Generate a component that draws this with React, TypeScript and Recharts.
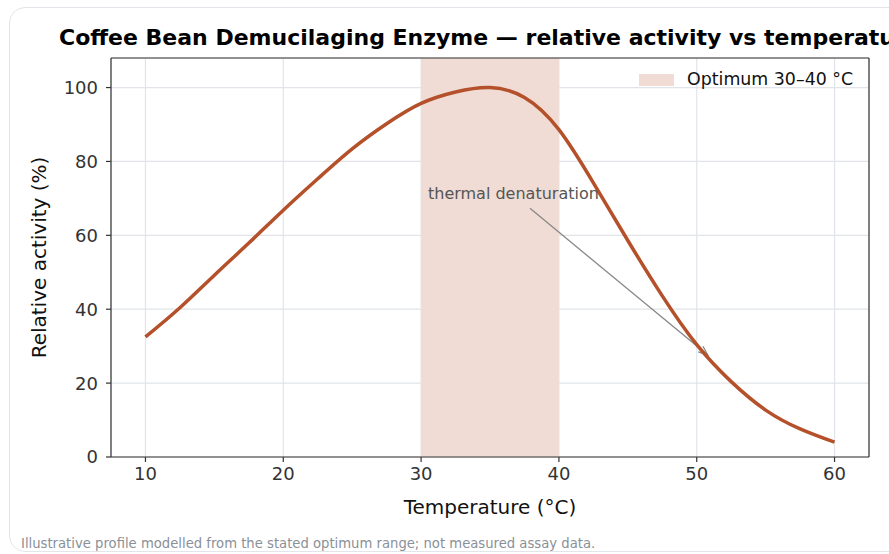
import { LineChart, Line, XAxis, YAxis, CartesianGrid, ReferenceArea, ReferenceLine } from 'recharts'

const temperatures = [10, 12.5, 15, 17.5, 20, 22.5, 25, 27.5, 30, 32.5, 35, 37.5, 40, 42.5, 45, 47.5, 50, 52.5, 55, 57.5, 60]
const activity = [32.5, 40.4, 49.2, 57.9, 66.8, 75.3, 83.4, 90.2, 95.7, 98.8, 100, 97.3, 88.6, 74.2, 58.6, 43.6, 30.4, 20.4, 12.7, 7.6, 4]
const xTicks = [10, 20, 30, 40, 50, 60]
const yTicks = [0, 20, 40, 60, 80, 100]
const optimum = [30, 40]
const annotation = { text: 'thermal denaturation', textX: 30.5, textY: 71.5, fromX: 37.9, fromY: 67.3, toX: 50.8, toY: 27.6 }

const data = temperatures.map((t, i) => ({ t, v: activity[i] }))

const FONT = '"DejaVu Sans", sans-serif'
const LINE = '#b4502a'
const SHADE = '#f0dcd4'

// arrow with open head, like matplotlib '->'
function Arrow(props: any) {
  const { x1, y1, x2, y2 } = props
  const ang = Math.atan2(y2 - y1, x2 - x1)
  const L = 10
  const a1 = ang + Math.PI - 0.38
  const a2 = ang + Math.PI + 0.38
  return (
    <g>
      <line x1={x1} y1={y1} x2={x2} y2={y2} stroke="#888" strokeWidth={1.3} />
      <path
        d={`M${x2 + L * Math.cos(a1)},${y2 + L * Math.sin(a1)} L${x2},${y2} L${x2 + L * Math.cos(a2)},${y2 + L * Math.sin(a2)}`}
        fill="none"
        stroke="#888"
        strokeWidth={1.3}
      />
    </g>
  )
}

export default function App() {
  return (
    <div style={{ position: 'fixed', left: 0, top: 0, width: 889, height: 554, overflow: 'hidden', background: '#fff', fontFamily: FONT }}>
      <div
        style={{
          position: 'absolute',
          left: 9,
          top: 7,
          width: 930,
          height: 545,
          border: '1px solid #e2e5ea',
          borderRadius: 16,
          boxSizing: 'border-box'
        }}
      />
      <div style={{ position: 'absolute', left: 59, top: 25, fontSize: 22, fontWeight: 'bold', color: '#000', whiteSpace: 'nowrap' }}>
        Coffee Bean Demucilaging Enzyme — relative activity vs temperature
      </div>
      <div style={{ position: 'absolute', left: 0, top: 0 }}>
        <LineChart width={889} height={554} data={data} margin={{ top: 58, right: 20, bottom: 67, left: 11 }}>
          <CartesianGrid stroke="#e1e4e8" strokeWidth={1.2} />
          <ReferenceArea x1={optimum[0]} x2={optimum[1]} fill={SHADE} fillOpacity={1} stroke="none" />
          <XAxis
            dataKey="t"
            type="number"
            domain={[7.5, 62.5]}
            ticks={xTicks}
            tickSize={5}
            tickMargin={5}
            height={30}
            stroke="#333"
            strokeWidth={1.2}
            tick={{ fill: '#333', fontSize: 18, fontFamily: FONT }}
            label={{ value: 'Temperature (°C)', position: 'bottom', offset: 13, fill: '#111', fontSize: 20, fontFamily: FONT }}
          />
          <YAxis
            type="number"
            domain={[0, 108]}
            ticks={yTicks}
            tickSize={5}
            tickMargin={8}
            width={100}
            stroke="#333"
            strokeWidth={1.2}
            tick={{ fill: '#333', fontSize: 18, fontFamily: FONT }}
            label={{ value: 'Relative activity (%)', angle: -90, position: 'insideLeft', offset: 28, fill: '#111', fontSize: 20, fontFamily: FONT, style: { textAnchor: 'middle' } }}
          />
          <ReferenceLine y={108} stroke="#333" strokeWidth={1.2} />
          <ReferenceLine x={62.5} stroke="#333" strokeWidth={1.2} />
          <ReferenceLine
            segment={[
              { x: annotation.fromX, y: annotation.fromY },
              { x: annotation.toX, y: annotation.toY }
            ]}
            shape={Arrow}
          />
          <Line type="natural" dataKey="v" stroke={LINE} strokeWidth={3.5} dot={false} isAnimationActive={false} />
          <ReferenceLine
            segment={[
              { x: annotation.textX, y: annotation.textY },
              { x: annotation.textX + 0.01, y: annotation.textY }
            ]}
            stroke="none"
            label={{ value: annotation.text, position: 'insideLeft', offset: 0, fill: '#555', fontSize: 16, fontFamily: FONT }}
          />
        </LineChart>
      </div>
      <div style={{ position: 'absolute', left: 639, top: 74, width: 35, height: 12, background: SHADE }} />
      <div style={{ position: 'absolute', left: 687, top: 69, fontSize: 17.4, color: '#111', whiteSpace: 'nowrap' }}>Optimum 30–40 °C</div>
      <div style={{ position: 'absolute', left: 21, top: 536, fontSize: 13.2, color: '#8a9097', whiteSpace: 'nowrap' }}>
        Illustrative profile modelled from the stated optimum range; not measured assay data.
      </div>
    </div>
  )
}
